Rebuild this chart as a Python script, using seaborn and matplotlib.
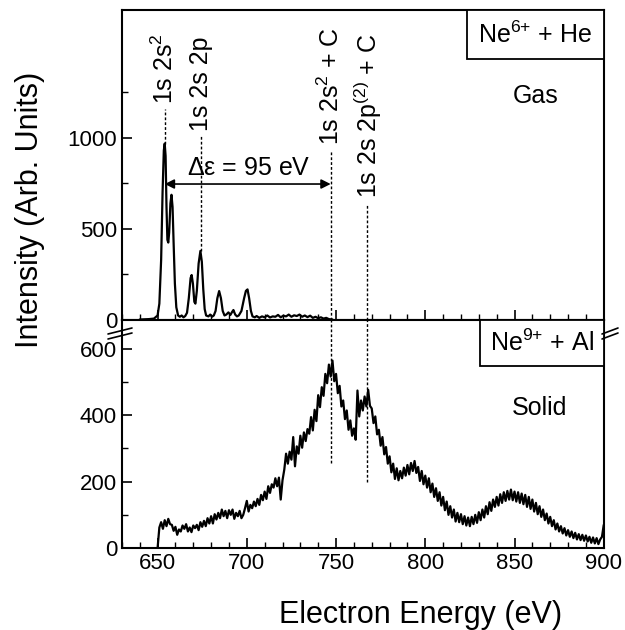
import matplotlib
matplotlib.use("Agg")
import matplotlib.pyplot as plt
import seaborn as sns
from matplotlib.offsetbox import AnchoredText
from matplotlib.lines import Line2D
from matplotlib.ticker import FixedLocator, MultipleLocator

# ---------------- data ----------------
gas_energy = [640, 645, 648, 650, 651, 652, 652.8, 653.5, 654, 654.5, 655, 655.5, 656, 656.5,
              657.2, 657.8, 658.4, 659, 659.7, 660.5, 661.5, 662.5, 663.5, 664.5, 665.5, 666.5,
              667.5, 668.5, 669.1, 669.8, 670.6, 671.2, 672, 673, 674, 674.8, 675.6, 676.4,
              677.2, 678.5, 679.5, 680.5, 681.5, 682.5, 683.5, 684.5, 685.5, 686.5, 687.5,
              688.5, 689.7, 690.8, 691.8, 692.5, 693.5, 694.5, 695.5, 697, 698.5, 699.5, 700.4,
              701.3, 702.3, 703.2, 704.5, 705.5, 707, 708.5, 710, 711.5, 713, 714.5, 716, 717.5,
              719, 720.5, 722, 723.5, 725, 726.5, 728, 729.5, 731, 732.5, 734, 735.5, 737,
              738.5, 740, 741.5, 743, 744.5, 746, 748]
gas_intensity = [3, 5, 8, 25, 90, 330, 700, 930, 968, 900, 620, 440, 425, 480,
                 640, 687, 620, 420, 200, 70, 25, 18, 25, 15, 22, 40,
                 120, 230, 247, 200, 100, 90, 160, 310, 379, 320, 170, 60,
                 25, 20, 30, 18, 25, 50, 120, 159, 120, 50, 25,
                 30, 42, 28, 45, 55, 30, 20, 25, 50, 120, 160, 168,
                 120, 50, 20, 15, 22, 12, 20, 15, 25, 14, 20, 18, 28,
                 15, 24, 20, 30, 18, 26, 22, 30, 18, 25, 16, 24, 12,
                 18, 10, 15, 8, 12, 5, 3]

solid_energy = list(range(650, 901))
solid_intensity = [
    0, 62, 78, 58, 84, 66, 88, 72, 70, 52,
    64, 40, 56, 50, 68, 58, 72, 50, 62, 48,
    68, 60, 70, 54, 78, 64, 82, 66, 90, 74,
    96, 74, 102, 86, 106, 90, 116, 96, 112, 90,
    114, 100, 116, 88, 106, 96, 112, 90, 100, 120,
    142, 110, 130, 120, 140, 126, 148, 130, 160, 144,
    170, 148, 186, 166, 192, 182, 210, 186, 212, 146,
    204, 236, 284, 254, 290, 266, 334, 246, 306, 284,
    338, 302, 348, 322, 358, 344, 394, 354, 416, 382,
    460, 424, 484, 458, 524, 496, 552, 516, 564, 502,
    524, 466, 488, 426, 444, 388, 414, 356, 384, 338,
    360, 326, 474, 396, 444, 414, 456, 426, 476, 428,
    420, 376, 396, 342, 356, 308, 334, 282, 304, 254,
    276, 228, 254, 208, 240, 204, 232, 210, 242, 218,
    250, 222, 256, 232, 262, 226, 244, 202, 232, 192,
    218, 182, 210, 168, 194, 154, 180, 142, 168, 128,
    154, 114, 140, 100, 126, 92, 116, 80, 106, 78,
    102, 72, 96, 68, 92, 66, 94, 72, 100, 76,
    108, 84, 116, 92, 126, 102, 138, 112, 146, 124,
    154, 128, 162, 136, 168, 142, 172, 146, 176, 144,
    170, 140, 168, 136, 164, 132, 160, 124, 154, 118,
    146, 110, 136, 102, 126, 94, 116, 84, 104, 74,
    94, 66, 84, 56, 74, 50, 66, 44, 60, 38,
    54, 34, 50, 30, 46, 26, 42, 24, 40, 22,
    38, 20, 34, 16, 32, 14, 30, 12, 26, 34,
    70]

x_major = [650, 700, 750, 800, 850, 900]
gas_yticks = [0, 500, 1000]
solid_yticks = [0, 200, 400, 600]

# peak markers: (energy, dashed top, dashed bottom, label)
gas_labels = [
    (654.0, 1158, 968, "1s 2s$^2$"),
    (674.5, 1010, 379, "1s 2s 2p"),
]
transfer_labels = [
    (747.0, 928, "1s 2s$^2$ + C", 256),
    (767.6, 637, "1s 2s 2p$^{(2)}$ + C", 198),
]

# ---------------- style ----------------
sns.set_style("ticks")
plt.rcParams["font.family"] = ["Liberation Sans", "DejaVu Sans"]
plt.rcParams["mathtext.default"] = "regular"
plt.rcParams["axes.linewidth"] = 1.5
plt.rcParams["text.color"] = "black"
plt.rcParams["xtick.color"] = "black"
plt.rcParams["ytick.color"] = "black"
plt.rcParams["xtick.labelcolor"] = "black"
plt.rcParams["ytick.labelcolor"] = "black"

fig = plt.figure(figsize=(6.25, 6.3), dpi=100)
ax_top = fig.add_axes([0.195, 0.492, 0.771, 0.492])
ax_bot = fig.add_axes([0.195, 0.130, 0.771, 0.362])

sns.lineplot(x=gas_energy, y=gas_intensity, ax=ax_top, color="black", lw=1.6)
sns.lineplot(x=solid_energy, y=solid_intensity, ax=ax_bot, color="black", lw=1.6)

for ax in (ax_top, ax_bot):
    ax.set_xlim(630, 900)
    ax.xaxis.set_major_locator(FixedLocator(x_major))
    ax.xaxis.set_minor_locator(MultipleLocator(10))
    ax.tick_params(axis="both", which="major", direction="in", length=7, width=1.2,
                   labelsize=16, colors="black")
    ax.tick_params(axis="both", which="minor", direction="in", length=4, width=1.0)
    ax.tick_params(top=False, right=False, which="both")
    for s in ax.spines.values():
        s.set_visible(True)
        s.set_color("black")
    ax.set_xlabel("")
    ax.set_ylabel("")

ax_top.set_ylim(0, 1700)
ax_top.yaxis.set_major_locator(FixedLocator(gas_yticks))
ax_top.yaxis.set_minor_locator(FixedLocator([250, 750, 1250]))
ax_top.tick_params(axis="x", labelbottom=False)

ax_bot.set_ylim(0, 686)
ax_bot.yaxis.set_major_locator(FixedLocator(solid_yticks))
ax_bot.yaxis.set_minor_locator(FixedLocator([100, 300, 500]))

# dashed markers and rotated labels in the gas panel
for e, ytop, ybot, lab in gas_labels:
    ax_top.plot([e, e], [ybot, ytop], ls=(0, (2, 1.5)), color="black", lw=1)
    ax_top.text(e, ytop + 25, lab, rotation=90, ha="center", va="bottom", fontsize=18)

for e, ytop, lab, ybot_solid in transfer_labels:
    ax_top.plot([e, e], [0, ytop], ls=(0, (2, 1.5)), color="black", lw=1, clip_on=False)
    ax_top.text(e, ytop + 30, lab, rotation=90, ha="center", va="bottom", fontsize=18)
    ax_bot.plot([e, e], [ybot_solid, 686], ls=(0, (2, 1.5)), color="black", lw=1)

# energy difference arrow
ax_top.annotate("", xy=(654.0, 746), xytext=(747.0, 746),
                arrowprops=dict(arrowstyle="<|-|>", color="black", lw=1.2,
                                mutation_scale=14, shrinkA=0, shrinkB=0))
ax_top.text(701, 835, "$\\Delta\\varepsilon$ = 95 eV", ha="center", va="center", fontsize=18)

# boxed system labels
for ax, txt, pad in ((ax_top, "Ne$^{6{+}}$ + He", 0.45), (ax_bot, "Ne$^{9{+}}$ + Al", 0.4)):
    at = AnchoredText(txt, loc="upper right", borderpad=0, pad=pad,
                      prop=dict(size=18, color="black"), frameon=True)
    at.patch.set_linewidth(1.3)
    at.patch.set_edgecolor("black")
    at.patch.set_boxstyle("square,pad=0")
    ax.add_artist(at)

ax_top.text(862, 1229, "Gas", ha="center", va="center", fontsize=18)
ax_bot.text(864, 421, "Solid", ha="center", va="center", fontsize=18)

# axis break marks
W, H = 625.0, 630.0
for x0, x1 in ((108.0, 132.0), (602.0, 618.0)):
    for dy in (0.0, 5.0):
        y0 = 331.0 + dy
        fig.add_artist(Line2D([x0 / W, x1 / W],
                              [1 - (y0 + 3) / H, 1 - (y0 - 3) / H],
                              color="black", lw=1.2, transform=fig.transFigure,
                              zorder=10))

fig.text(30 / W, 1 - 210 / H, "Intensity (Arb. Units)", rotation=90,
         ha="center", va="center", fontsize=22)
fig.text(421 / W, 1 - 623 / H, "Electron Energy (eV)", ha="center", va="baseline",
         fontsize=22)

fig.savefig("out.png", dpi=100)
